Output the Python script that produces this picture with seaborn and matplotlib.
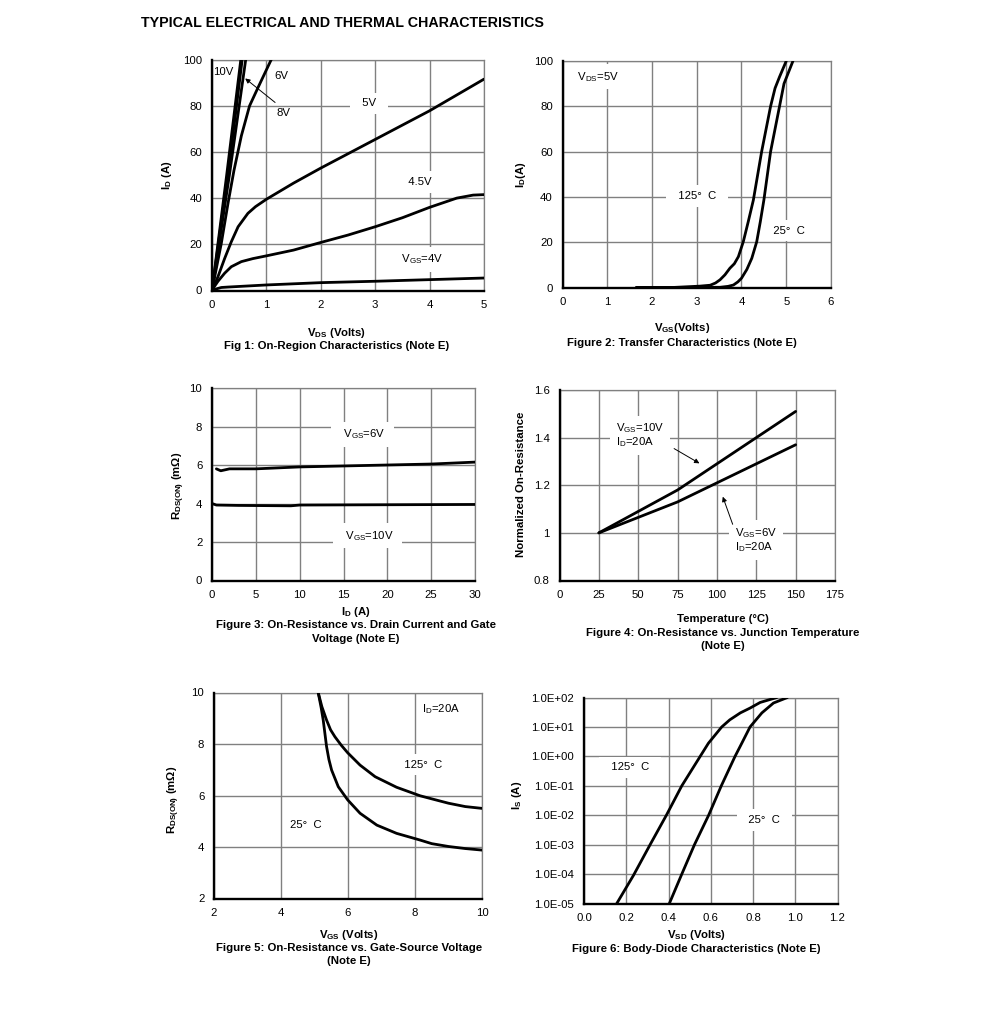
import matplotlib
matplotlib.use("Agg")
import matplotlib.pyplot as plt
import seaborn as sns

W, H = 991, 1029

# Fig 1
vds_10v = [0, 0.135, 0.27, 0.40, 0.53]
id_10v = [0, 25, 50, 75, 100]
vds_10v_b = [0, 0.145, 0.29, 0.425, 0.555]
id_10v_b = [0, 25, 50, 75, 100]
vds_8v = [0, 0.16, 0.32, 0.47, 0.62]
id_8v = [0, 25, 50, 75, 100]
vds_6v = [0, 0.05, 0.171, 0.294, 0.404, 0.54, 0.69, 0.845, 1.09]
id_6v = [0, 6, 20.4, 37.7, 52, 67, 79.9, 87.8, 100]
vds_5v = [0, 0.018, 0.11, 0.233, 0.355, 0.48, 0.66, 0.8, 1, 1.5, 2, 3, 4, 5]
id_5v = [0, 0.9, 6, 13.9, 21.1, 27.6, 33.4, 36.3, 39.5, 46.5, 53, 65.4, 77.8, 91.5]
vds_45v = [0, 0.02, 0.11, 0.233, 0.355, 0.54, 0.75, 1, 1.5, 2, 2.5, 3, 3.5, 4, 4.5, 4.8, 5]
id_45v = [0, 0.9, 4, 7.5, 10.3, 12.5, 13.8, 15, 17.5, 20.8, 24, 27.6, 31.5, 36, 40, 41.3, 41.5]
vds_4v = [0, 0.02, 0.17, 0.3, 1, 2, 3, 4, 5]
id_4v = [0, 0.3, 1.3, 1.5, 2.4, 3.4, 4, 4.7, 5.4]

# Figure 2
vgs_125 = [1.65, 2.5, 3.07, 3.30, 3.42, 3.52, 3.63, 3.74, 3.84, 3.93, 4.04, 4.15, 4.265, 4.45, 4.65, 4.75, 4.85, 5]
idt_125 = [0, 0.05, 0.6, 1, 2, 3.4, 5.6, 8.5, 10.5, 13.6, 20.2, 29, 38.6, 60, 80, 88, 93, 100]
vgs_25 = [1.65, 3, 3.52, 3.7, 3.82, 3.92, 4.0, 4.12, 4.23, 4.34, 4.42, 4.5, 4.65, 4.85, 4.95, 5.15]
idt_25 = [0, 0.05, 0.1, 0.5, 1.1, 2.5, 4.1, 8, 12.9, 20.2, 29, 38.6, 60, 80, 90, 100]

# Figure 3
id_6 = [0.5, 1, 1.5, 2, 5, 10, 15, 20, 25, 30]
ron_6 = [5.8, 5.7, 5.75, 5.8, 5.8, 5.9, 5.95, 6.0, 6.05, 6.15]
id_10 = [0, 0.5, 3, 9, 10, 30]
ron_10 = [4, 3.92, 3.9, 3.88, 3.92, 3.95]

# Figure 4
temp = [25, 50, 75, 100, 125, 150]
norm_10v = [1, 1.09, 1.18, 1.29, 1.40, 1.51]
norm_6v = [1, 1.065, 1.13, 1.21, 1.29, 1.37]

# Figure 5
vg_125 = [5.11, 5.22, 5.36, 5.48, 5.61, 5.8, 5.99, 6.36, 6.81, 7.45, 8.15, 8.5, 9, 9.5, 10]
rg_125 = [10, 9.45, 8.93, 8.55, 8.28, 7.95, 7.66, 7.18, 6.73, 6.32, 5.99, 5.87, 5.7, 5.57, 5.5]
vg_25 = [5.11, 5.2, 5.26, 5.36, 5.43, 5.51, 5.71, 5.99, 6.36, 6.86, 7.45, 8.15, 8.5, 9, 9.5, 10]
rg_25 = [10, 9.4, 8.93, 7.9, 7.4, 6.99, 6.34, 5.83, 5.31, 4.85, 4.53, 4.27, 4.13, 4.02, 3.94, 3.88]

# Figure 6
vsd_125 = [0.155, 0.234, 0.313, 0.39, 0.463, 0.55, 0.589, 0.652, 0.69, 0.74, 0.786, 0.834, 0.913]
is_125 = [1e-5, 9e-5, 1e-3, 1e-2, 1e-1, 1, 2.8, 10, 17.4, 30, 43.7, 68, 100]
vsd_25 = [0.404, 0.463, 0.523, 0.59, 0.65, 0.715, 0.747, 0.786, 0.842, 0.897, 0.963]
is_25 = [1e-5, 1e-4, 1e-3, 1e-2, 1e-1, 1, 2.8, 10, 30, 65, 100]
is_ticks = [1e-5, 1e-4, 1e-3, 1e-2, 1e-1, 1, 10, 100]
is_labels = ["1.0E-05", "1.0E-04", "1.0E-03", "1.0E-02", "1.0E-01", "1.0E+00", "1.0E+01", "1.0E+02"]
vsd_ticks = [0, 0.2, 0.4, 0.6, 0.8, 1.0, 1.2]
vsd_labels = ["0.0", "0.2", "0.4", "0.6", "0.8", "1.0", "1.2"]

sns.set_theme(style="whitegrid")
plt.rcParams["font.family"] = ["Liberation Sans", "DejaVu Sans"]
plt.rcParams["mathtext.default"] = "regular"
plt.rcParams["font.size"] = 8.2


def make_axes(fig, left, right, top, bottom):
    return fig.add_axes([left / W, 1 - bottom / H, (right - left) / W, (bottom - top) / H])


def draw_panel(ax, curves, xlim, ylim, xticks, yticks, xlabels=None, ylabels=None):
    for xs, ys in curves:
        sns.lineplot(x=xs, y=ys, ax=ax, color="black", linewidth=2.0, sort=False,
                     estimator=None, errorbar=None, zorder=3)
    ax.set_xlim(xlim)
    ax.set_ylim(ylim)
    ax.set_xticks(xticks)
    ax.set_yticks(yticks)
    ax.set_xticklabels(xlabels if xlabels else [str(v) for v in xticks])
    ax.set_yticklabels(ylabels if ylabels else [str(v) for v in yticks])
    ax.minorticks_off()
    ax.grid(True, color="#808080", linewidth=1.0)
    ax.set_axisbelow(True)
    ax.tick_params(length=0, labelsize=8.2, labelcolor="black", pad=7)
    for side in ["top", "right"]:
        ax.spines[side].set_color("#808080")
        ax.spines[side].set_linewidth(0.9)
    for side in ["left", "bottom"]:
        ax.spines[side].set_color("black")
        ax.spines[side].set_linewidth(1.7)
        ax.spines[side].set_zorder(4)


def put_labels(ax, xlabel, xpos, ylabel, ypos):
    ax.set_xlabel(xlabel, fontsize=8.2, fontweight="bold", color="black", va="center")
    ax.xaxis.set_label_coords(xpos[0] / W, 1 - xpos[1] / H, transform=fig.transFigure)
    ax.set_ylabel(ylabel, fontsize=8.2, fontweight="bold", color="black", va="center")
    ax.yaxis.set_label_coords(ypos[0] / W, 1 - ypos[1] / H, transform=fig.transFigure)


def note(ax, x, y, s, boxed=True, **kw):
    # the boxes are wider than tall in the original, spaces do that
    box = None
    if boxed:
        box = dict(facecolor="white", edgecolor="none", pad=4)
        if "\n" not in s:
            s = "  " + s + "  "
    kw.setdefault("ha", "center")
    ax.text(x, y, s, fontsize=8.2, va="center", color="black", bbox=box, zorder=2.5, **kw)


def arrow(ax, start, end):
    ax.annotate("", xy=end, xytext=start, zorder=5,
                arrowprops=dict(arrowstyle="-|>", color="black", lw=0.7, mutation_scale=7,
                                shrinkA=0, shrinkB=0))


def caption(x, y, s):
    fig.text(x / W, 1 - y / H, s, fontsize=8.2, fontweight="bold", ha="center", va="center", color="black")


fig = plt.figure(figsize=(W / 100, H / 100), dpi=100, facecolor="white")

fig.text(141 / W, 1 - 23 / H, "TYPICAL ELECTRICAL AND THERMAL CHARACTERISTICS",
         fontsize=10.3, fontweight="bold", ha="left", va="center", color="black")

# Fig 1
ax1 = make_axes(fig, 212, 484, 59.5, 290.5)
draw_panel(ax1, [(vds_10v, id_10v), (vds_10v_b, id_10v_b), (vds_8v, id_8v), (vds_6v, id_6v),
                 (vds_5v, id_5v), (vds_45v, id_45v), (vds_4v, id_4v)],
           (0, 5), (0, 100), [0, 1, 2, 3, 4, 5], [0, 20, 40, 60, 80, 100])
note(ax1, 0.2, 94.4, "10V", boxed=False)
note(ax1, 1.27, 92.8, "6V", boxed=False)
note(ax1, 1.31, 77, "8V", boxed=False)
note(ax1, 2.89, 81, "5V")
note(ax1, 3.82, 47, "4.5V")
note(ax1, 3.83, 13.5, "V$_{GS}$=4V")
arrow(ax1, (1.16, 81.4), (0.61, 91.8))
put_labels(ax1, "V$_{DS}$ (Volts)", (336.5, 332.5), "I$_{D}$ (A)", (167.5, 175))
caption(336.5, 346, "Fig 1: On-Region Characteristics (Note E)")

# Figure 2
ax2 = make_axes(fig, 562.5, 831, 61, 287.5)
draw_panel(ax2, [(vgs_125, idt_125), (vgs_25, idt_25)],
           (0, 6), (0, 100), [0, 1, 2, 3, 4, 5, 6], [0, 20, 40, 60, 80, 100])
note(ax2, 0.77, 93, "V$_{DS}$=5V")
note(ax2, 3.0, 40.4, "125°  C")
note(ax2, 5.06, 25, "25°  C")
put_labels(ax2, "V$_{GS}$(Volts)", (682, 328), "I$_{D}$(A)", (521.5, 175))
caption(682, 342.5, "Figure 2: Transfer Characteristics (Note E)")

# Figure 3
ax3 = make_axes(fig, 212, 475, 388, 580.5)
draw_panel(ax3, [(id_6, ron_6), (id_10, ron_10)],
           (0, 30), (0, 10), [0, 5, 10, 15, 20, 25, 30], [0, 2, 4, 6, 8, 10])
note(ax3, 17.15, 7.6, "V$_{GS}$=6V")
note(ax3, 17.75, 2.33, "V$_{GS}$=10V")
put_labels(ax3, "I$_{D}$ (A)", (356, 612), "R$_{DS(ON)}$ (mΩ)", (179, 486))
caption(356, 625, "Figure 3: On-Resistance vs. Drain Current and Gate")
caption(356, 639, "Voltage (Note E)")

# Figure 4
ax4 = make_axes(fig, 559.5, 835, 390, 580.5)
draw_panel(ax4, [(temp, norm_10v), (temp, norm_6v)],
           (0, 175), (0.8, 1.6), [0, 25, 50, 75, 100, 125, 150, 175], [0.8, 1, 1.2, 1.4, 1.6])
note(ax4, 35.8, 1.41, "V$_{GS}$=10V\nI$_{D}$=20A", ha="left", linespacing=1.05)
note(ax4, 111.5, 0.97, "V$_{GS}$=6V\nI$_{D}$=20A", ha="left", linespacing=1.05)
arrow(ax4, (72.8, 1.354), (88.9, 1.292))
arrow(ax4, (110, 1.036), (103.7, 1.152))
put_labels(ax4, "Temperature (°C)", (722.5, 618.5), "Normalized On-Resistance", (521, 484))
caption(723, 633, "Figure 4: On-Resistance vs. Junction Temperature")
caption(723, 646, "(Note E)")

# Figure 5
ax5 = make_axes(fig, 214, 482, 692.5, 898.5)
draw_panel(ax5, [(vg_125, rg_125), (vg_25, rg_25)],
           (2, 10), (2, 10), [2, 4, 6, 8, 10], [2, 4, 6, 8, 10])
note(ax5, 8.79, 9.35, "I$_{D}$=20A", boxed=False)
note(ax5, 8.26, 7.19, "125°  C")
note(ax5, 4.74, 4.86, "25°  C", boxed=False)
put_labels(ax5, "V$_{GS}$ (Volts)", (349, 935), "R$_{DS(ON)}$ (mΩ)", (174, 800))
caption(349, 948, "Figure 5: On-Resistance vs. Gate-Source Voltage")
caption(349, 961, "(Note E)")

# Figure 6
ax6 = make_axes(fig, 584, 837.5, 697.5, 903.5)
ax6.set_yscale("log")
draw_panel(ax6, [(vsd_125, is_125), (vsd_25, is_25)],
           (0, 1.2), (1e-5, 1e2), vsd_ticks, is_ticks,
           xlabels=vsd_labels, ylabels=is_labels)
note(ax6, 0.218, 0.43, "125°  C")
note(ax6, 0.854, 0.0069, "25°  C")
put_labels(ax6, "V$_{SD}$ (Volts)", (696, 935.5), "I$_{S}$ (A)", (517, 795))
caption(696, 949, "Figure 6: Body-Diode Characteristics (Note E)")

fig.savefig("out.png", dpi=100, facecolor="white")
